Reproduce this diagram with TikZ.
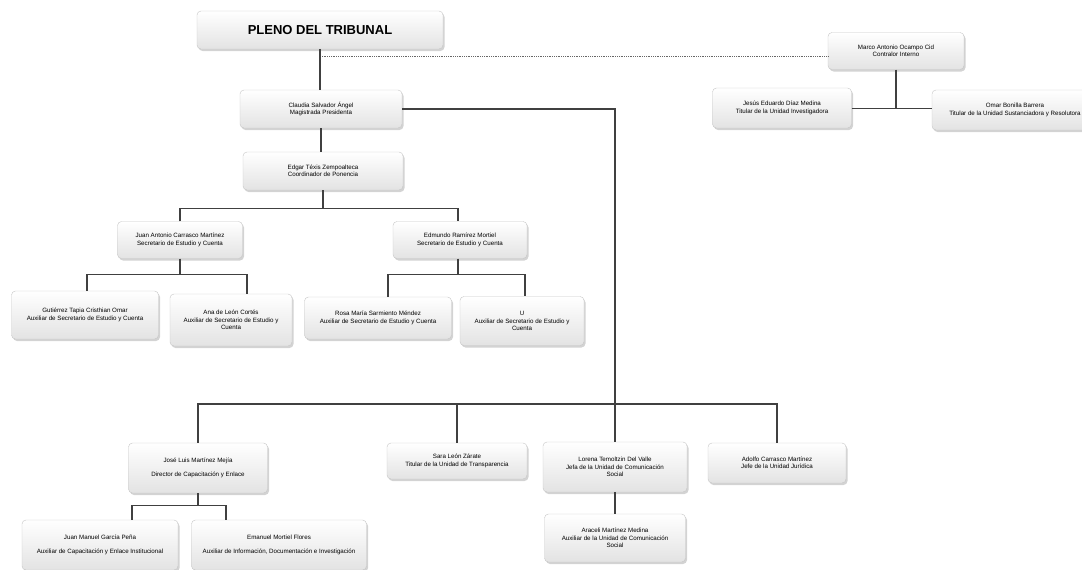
\documentclass[tikz,border=0pt]{standalone}
\usepackage{fontspec}
\setmainfont{Liberation Sans}
\usetikzlibrary{shadows}
\tikzstyle{box}=[draw=gray!45, rounded corners=4pt, top color=white, bottom color=gray!22,
  drop shadow={shadow xshift=1.5pt, shadow yshift=-2pt, opacity=.35},
  align=center, inner sep=1pt, font=\fontsize{6.2}{7.4}\selectfont]
\tikzstyle{edge}=[draw=black!75, line width=1.1pt]
\tikzstyle{link}=[draw=black!60, densely dotted, line width=0.8pt]

\begin{document}
\begin{tikzpicture}[x=1pt,y=-1pt]
\useasboundingbox (0,0) rectangle (1082,570);

% top
\node[box, minimum width=246, minimum height=38, font=\fontsize{13}{15}\selectfont\bfseries] (ple) at (320,30) {PLENO DEL TRIBUNAL};
\node[box, minimum width=136, minimum height=37] (mar) at (896,51) {Marco Antonio Ocampo Cid\\Contralor Interno};
\node[box, minimum width=139, minimum height=40] (jes) at (782,108) {Jesús Eduardo Díaz Medina\\Titular de la Unidad Investigadora};
\node[box, minimum width=166, minimum height=40] (omr) at (1015,110) {Omar Bonilla Barrera\\Titular de la Unidad Sustanciadora y Resolutora};

\node[box, minimum width=162, minimum height=38] (cla) at (321,109) {Claudia Salvador Ángel\\Magistrada Presidenta};
\node[box, minimum width=160, minimum height=38] (edg) at (323,171) {Edgar Téxis Zempoalteca\\Coordinador de Ponencia};

% secretarios
\node[box, minimum width=125, minimum height=37] (jua) at (180,240) {Juan Antonio Carrasco Martínez\\Secretario de Estudio y Cuenta};
\node[box, minimum width=134, minimum height=37] (edm) at (460,240) {Edmundo Ramírez Mortiel\\Secretario de Estudio y Cuenta};
\node[box, minimum width=147, minimum height=48] (gut) at (85,315) {Gutiérrez Tapia Cristhian Omar\\Auxiliar de Secretario de Estudio y Cuenta};
\node[box, minimum width=122, minimum height=52] (ana) at (231,320) {Ana de León Cortés\\Auxiliar de Secretario de Estudio y\\Cuenta};
\node[box, minimum width=147, minimum height=42] (ros) at (378,318) {Rosa María Sarmiento Méndez\\Auxiliar de Secretario de Estudio y Cuenta};
\node[box, minimum width=124, minimum height=49] (u) at (522,321) {U\\Auxiliar de Secretario de Estudio y\\Cuenta};

% unidades
\node[box, minimum width=139, minimum height=50] (jos) at (198,468) {José Luis Martínez Mejía\\[6pt]Director de Capacitación y Enlace};
\node[box, minimum width=140, minimum height=36] (sar) at (457,461) {Sara León Zárate\\Titular de la Unidad de Transparencia};
\node[box, minimum width=144, minimum height=50] (lor) at (615,467) {Lorena Temoltzin Del Valle\\Jefa de la Unidad de Comunicación\\Social};
\node[box, minimum width=138, minimum height=40] (ado) at (777,463) {Adolfo Carrasco Martínez\\Jefe de la Unidad Jurídica};
\node[box, minimum width=141, minimum height=48] (ara) at (615,538) {Araceli Martínez Medina\\Auxiliar de la Unidad de Comunicación\\Social};
\node[box, minimum width=156, minimum height=50] (jma) at (100,545) {Juan Manuel García Peña\\[6pt]Auxiliar de Capacitación y Enlace Institucional};
\node[box, minimum width=175, minimum height=50] (ema) at (279,545) {Emanuel Mortiel Flores\\[6pt]Auxiliar de Información, Documentación e Investigación};

% lines
\coordinate (pd) at (320,56);
\draw[link] (pd) -- (pd -| mar.west);
\draw[edge] (ple.south) -- (ple.south |- cla.north);
\draw[edge] (mar.south) -- ++(0,39) coordinate (mb);
\draw[edge] (jes.east |- mb) -- (omr.west |- mb);
\draw[edge] (cla.south) -- (cla.south |- edg.north);
\draw[edge] (edg.south) -- ++(0,18) coordinate (eb);
\draw[edge] (jua.north) |- (eb) -| ([xshift=-2]edm.north);
\draw[edge] (jua.south) -- ++(0,16) coordinate (jb);
\draw[edge] ([xshift=2]gut.north) |- (jb) -| ([xshift=16]ana.north);
\draw[edge] ([xshift=-2]edm.north |- edm.south) -- ++(0,16) coordinate (db);
\draw[edge] ([xshift=10]ros.north) |- (db) -| ([xshift=3]u.north);
\draw[edge] (cla.east) -| (lor.north);
\coordinate (bb) at (615,404);
\draw[edge] (jos.north) |- (bb) -| (ado.north);
\draw[edge] (sar.north) -- (sar.north |- bb);
\draw[edge] (lor.south) -- (ara.north);
\draw[edge] (jos.south) -- ++(0,12) coordinate (sb);
\draw[edge] ([xshift=32]jma.north) |- (sb) -| ([xshift=-53]ema.north);
\end{tikzpicture}
\end{document}
